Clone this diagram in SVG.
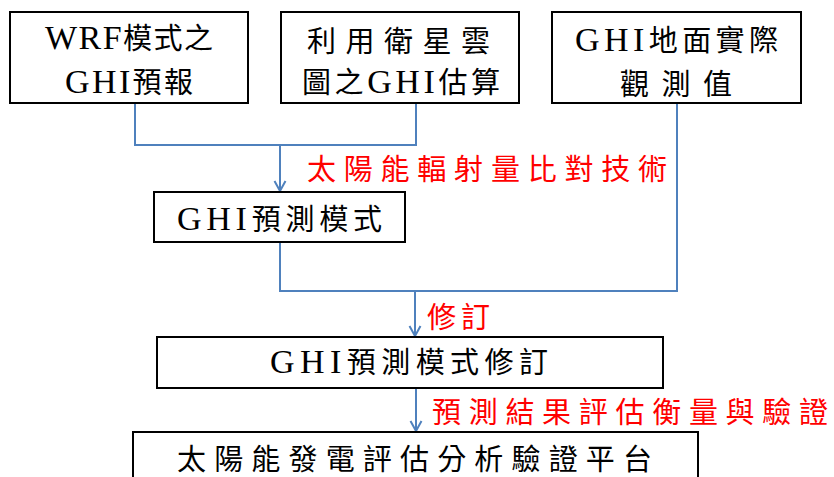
<svg xmlns="http://www.w3.org/2000/svg" width="834" height="477" viewBox="0 0 834 477">
<style>
  .box { fill: #ffffff; stroke: #000000; stroke-width: 2; }
  .t { font-family: "Liberation Serif", "Noto Sans CJK TC", serif; font-size: 29px; fill: #000000; }
  .r { font-family: "Liberation Serif", "Noto Sans CJK TC", serif; font-size: 29px; fill: #ff0000; }
  .lat { font-family: "Liberation Serif", serif; font-size: 34px; }
  .conn { fill: none; stroke: #4f81bd; stroke-width: 2; }
</style>
<defs>
  <marker id="arrow" viewBox="-12 -7 14 14" markerWidth="14" markerHeight="14" refX="0" refY="0" orient="auto" markerUnits="userSpaceOnUse">
    <path d="M-10,-5.5 L0,0 L-10,5.5" fill="none" stroke="#4f81bd" stroke-width="2"/>
  </marker>
</defs>
<rect width="834" height="477" fill="#ffffff"/>

<g id="connectors">
  <path class="conn" d="M135,103 V145 H416 V103"/>
  <path class="conn" d="M280,145 V191" marker-end="url(#arrow)"/>
  <path class="conn" d="M677,103 V291 H280 V242"/>
  <path class="conn" d="M415,291 V336" marker-end="url(#arrow)"/>
  <path class="conn" d="M416,388 V431" marker-end="url(#arrow)"/>
</g>

<g id="node-wrf">
  <rect class="box" x="10" y="12" width="238" height="91"/>
  <text class="t" x="45" y="49" textLength="168" lengthAdjust="spacing"><tspan class="lat">WRF</tspan>模式之</text>
  <text class="t" x="65" y="93" textLength="128" lengthAdjust="spacing"><tspan class="lat">GHI</tspan>預報</text>
</g>

<g id="node-satellite">
  <rect class="box" x="281" y="12" width="238" height="91"/>
  <text class="t" x="307" y="52" textLength="183" lengthAdjust="spacing">利用衛星雲</text>
  <text class="t" x="302" y="93" textLength="198" lengthAdjust="spacing">圖之<tspan class="lat">GHI</tspan>估算</text>
</g>

<g id="node-ground">
  <rect class="box" x="552" y="12" width="249" height="91"/>
  <text class="t" x="575" y="51" textLength="203" lengthAdjust="spacing"><tspan class="lat">GHI</tspan>地面實際</text>
  <text class="t" x="620" y="95" textLength="112" lengthAdjust="spacing">觀測值</text>
</g>

<g id="label-compare">
  <text class="r" x="307" y="180" textLength="360" lengthAdjust="spacing">太陽能輻射量比對技術</text>
</g>

<g id="node-model">
  <rect class="box" x="154" y="192" width="251" height="50"/>
  <text class="t" x="177" y="230" textLength="205" lengthAdjust="spacing"><tspan class="lat">GHI</tspan>預測模式</text>
</g>

<g id="label-revise">
  <text class="r" x="427" y="328" textLength="63" lengthAdjust="spacing">修訂</text>
</g>

<g id="node-model-revise">
  <rect class="box" x="157" y="337" width="506" height="51"/>
  <text class="t" x="270" y="373" textLength="278" lengthAdjust="spacing"><tspan class="lat">GHI</tspan>預測模式修訂</text>
</g>

<g id="label-evaluate">
  <text class="r" x="432" y="423" textLength="396" lengthAdjust="spacing">預測結果評估衡量與驗證</text>
</g>

<g id="node-platform">
  <rect class="box" x="133" y="432" width="565" height="60"/>
  <text class="t" x="177" y="470" textLength="475" lengthAdjust="spacing">太陽能發電評估分析驗證平台</text>
</g>
</svg>
